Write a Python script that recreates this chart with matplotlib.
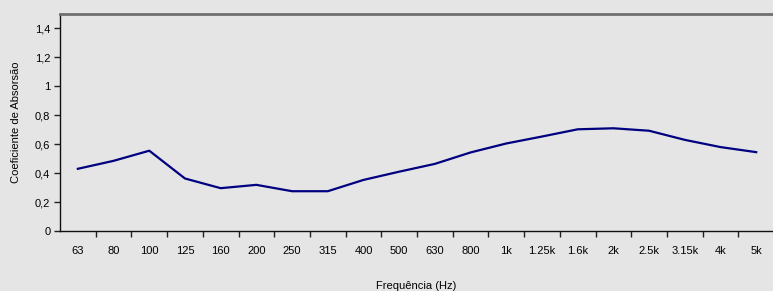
import matplotlib
matplotlib.use("Agg")
import matplotlib.pyplot as plt

categories = ["63", "80", "100", "125", "160", "200", "250", "315", "400", "500",
              "630", "800", "1k", "1.25k", "1.6k", "2k", "2.5k", "3.15k", "4k", "5k"]
values = [0.43, 0.485, 0.555, 0.363, 0.296, 0.319, 0.275, 0.275, 0.353, 0.41,
          0.464, 0.543, 0.605, 0.653, 0.703, 0.71, 0.693, 0.63, 0.58, 0.545]
yticks = [0, 0.2, 0.4, 0.6, 0.8, 1.0, 1.2, 1.4]
ytick_labels = ["0", "0,2", "0,4", "0,6", "0,8", "1", "1,2", "1,4"]

plt.rcParams['font.family'] = ['Liberation Sans', 'DejaVu Sans']
bg = '#e5e5e5'
fig = plt.figure(figsize=(7.73, 2.91), dpi=100, facecolor=bg)
ax = fig.add_axes([60/773, 60/291, 1 - 60/773, (231-14)/291])
ax.set_facecolor(bg)

x = list(range(len(categories)))
ax.plot(x, values, color='#000080', lw=1.6)

ax.set_xlim(-0.5, 19.47)
ax.set_ylim(0, 1.5)
ax.set_yticks(yticks)
ax.set_yticklabels(ytick_labels, fontsize=8)
ax.set_xticks(x)
ax.set_xticklabels(categories, fontsize=8)
ax.tick_params(axis='x', which='major', length=0, pad=11)
ax.set_xticks([i + 0.5 for i in x[:-1]], minor=True)
ax.tick_params(axis='x', which='minor', length=4, width=1, color='#222222', direction='out')
ax.tick_params(axis='y', length=4, width=1, color='#222222', pad=3)

ax.spines['right'].set_visible(False)
ax.spines['top'].set_color('#707070')
ax.spines['top'].set_linewidth(2)
ax.spines['left'].set_color('#111111')
ax.spines['bottom'].set_color('#111111')
ax.spines['left'].set_linewidth(1)
ax.spines['bottom'].set_linewidth(1)

ax.set_ylabel("Coeficiente de Absorsão", fontsize=8, labelpad=10)
ax.set_xlabel("Frequência (Hz)", fontsize=8, labelpad=18)

fig.savefig("out.png", dpi=100, facecolor=bg)
